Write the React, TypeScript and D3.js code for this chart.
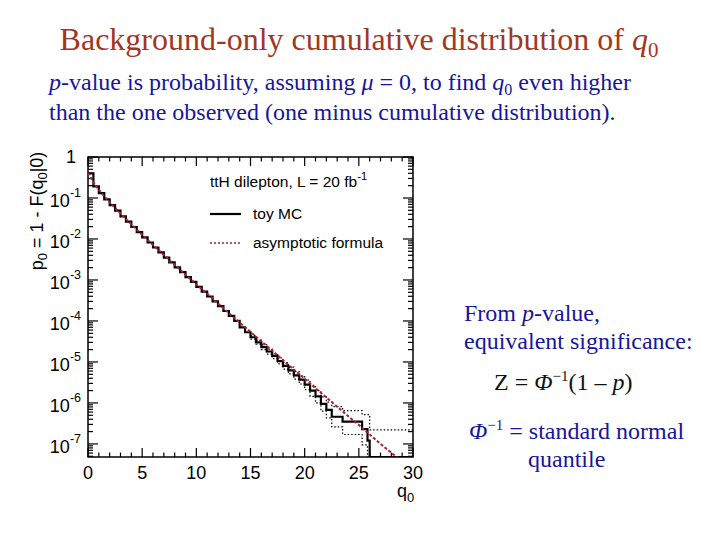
import React from "react";
import * as d3 from "d3";

// asymptotic formula
const asymQ = [0, 0.5, 1, 1.5, 2, 3, 4, 5, 6, 7, 8, 9, 10, 11, 12, 13, 14, 15, 16, 17, 18, 19, 20, 21, 22, 23, 24, 25, 26, 27, 28, 28.5];
const asymP = [0.41, 0.24, 0.159, 0.11, 0.0786, 0.0416, 0.0228, 0.0127, 0.00715, 0.00408, 0.00234, 0.00135, 7.8e-4, 4.6e-4, 2.66e-4, 1.56e-4, 9.1e-5, 5.4e-5, 3.2e-5, 1.9e-5, 1.1e-5, 6.5e-6, 3.9e-6, 2.3e-6, 1.36e-6, 8.1e-7, 4.8e-7, 2.9e-7, 1.7e-7, 1.0e-7, 6.1e-8, 4.7e-8];

// toy MC histogram (step starts and contents)
const toyQ = [0, 0.5, 1, 1.5, 2, 2.5, 3, 3.5, 4, 4.5, 5, 5.5, 6, 6.5, 7, 7.5, 8, 8.5, 9, 9.5, 10, 10.5, 11, 11.5, 12, 12.5, 13, 13.5, 14, 14.5, 15, 15.5, 16, 16.5, 17, 17.5, 18, 18.5, 19, 19.5, 20, 20.5, 21, 21.5, 22, 22.5, 23.5, 25.3, 25.8, 26, 30];
const toyP = [0.4, 0.193, 0.132, 0.093, 0.067, 0.049, 0.0357, 0.0264, 0.0196, 0.0147, 0.011, 0.0082, 0.0062, 0.0047, 0.0035, 0.0027, 0.00204, 0.00155, 0.00118, 9.0e-4, 6.8e-4, 5.2e-4, 3.95e-4, 3.0e-4, 2.3e-4, 1.75e-4, 1.33e-4, 1.0e-4, 7.0e-5, 5.3e-5, 4.0e-5, 3.0e-5, 2.3e-5, 1.8e-5, 1.4e-5, 1.05e-5, 8.0e-6, 6.2e-6, 4.7e-6, 3.7e-6, 2.8e-6, 2.0e-6, 1.45e-6, 9.5e-7, 6.8e-7, 4.6e-7, 3.5e-7, 2.3e-7, 1.2e-7, 0, 0];

// toy MC error band (dotted)
const bandQ = [15, 15.5, 16, 16.5, 17, 17.5, 18, 18.5, 19, 19.5, 20, 20.5, 21, 21.5, 22, 22.5, 23.5, 25.3, 25.8, 26, 30];
const bandUp = [4.4e-5, 3.4e-5, 2.6e-5, 2.05e-5, 1.6e-5, 1.25e-5, 9.6e-6, 7.5e-6, 5.8e-6, 4.6e-6, 3.6e-6, 2.7e-6, 2.0e-6, 1.4e-6, 1.05e-6, 8.1e-7, 6.5e-7, 5.2e-7, 5.2e-7, 2.2e-7, 2.2e-7];
const bandDown = [3.6e-5, 2.7e-5, 2.0e-5, 1.55e-5, 1.2e-5, 9.0e-6, 6.7e-6, 5.1e-6, 3.8e-6, 2.9e-6, 2.1e-6, 1.45e-6, 1.0e-6, 6.3e-7, 4.3e-7, 2.6e-7, 1.7e-7, 9.5e-8, 0, 0, 0];

const xTickLabels = [0, 5, 10, 15, 20, 25, 30];
const yDecades = [0, -1, -2, -3, -4, -5, -6, -7];

const sans = "'Liberation Sans', Arial, Helvetica, sans-serif";
const serif = "'Liberation Serif', 'Times New Roman', serif";
const titleColor = "#a3361f";
const blue = "#16169a";
const red = "#a8232e";

const W = 720, H = 540;
const fx0 = 88, fx1 = 413, fy0 = 157, fy1 = 457;

export default function App() {
  const x = d3.scaleLinear().domain([0, 30]).range([fx0, fx1]);
  const y = d3.scaleLog().domain([4.8e-8, 1]).range([fy1, fy0]);
  const yv = (p: number) => (p > 0 ? Math.min(y(p), fy1) : fy1);

  const stepLine = d3.line<[number, number]>()
    .x(d => x(d[0])).y(d => yv(d[1])).curve(d3.curveStepAfter);
  const smooth = d3.line<[number, number]>().x(d => x(d[0])).y(d => y(d[1]));

  const toyPts = toyQ.map((q, i) => [q, toyP[i]] as [number, number]);
  const upPts = bandQ.map((q, i) => [q, bandUp[i]] as [number, number]);
  const dnPts = bandQ.map((q, i) => [q, bandDown[i]] as [number, number]);
  const asymPts = asymQ.map((q, i) => [q, asymP[i]] as [number, number]);

  const xMinor = d3.range(0, 31, 1);
  const yTicks = y.ticks();
  const isMajor = (v: number) => Math.abs(Math.log10(v) - Math.round(Math.log10(v))) < 1e-6;

  return (
    <svg width={W} height={H} style={{ position: "absolute", left: 0, top: 0, background: "#fff" }}>
      <defs>
        <clipPath id="frame">
          <rect x={fx0} y={fy0} width={fx1 - fx0} height={fy1 - fy0} />
        </clipPath>
      </defs>

      <text x={359} y={50} textAnchor="middle" fontFamily={serif} fontSize={32} fill={titleColor}>
        Background-only cumulative distribution of <tspan fontStyle="italic">q</tspan>
        <tspan dy={7} fontSize={21}>0</tspan>
      </text>

      <g fontFamily={serif} fontSize={24} fill={blue}>
        <text x={49} y={90}>
          <tspan fontStyle="italic">p</tspan>-value is probability, assuming <tspan fontStyle="italic">μ</tspan> = 0, to find <tspan fontStyle="italic">q</tspan>
          <tspan dy={5} fontSize={16}>0</tspan>
          <tspan dy={-5}> even higher</tspan>
        </text>
        <text x={49} y={120}>than the one observed (one minus cumulative distribution).</text>
        <text x={464} y={321}>From <tspan fontStyle="italic">p</tspan>-value,</text>
        <text x={464} y={349}>equivalent significance:</text>
        <text x={494} y={390} fill="#111">
          Z = <tspan fontStyle="italic">Φ</tspan><tspan dy={-9} fontSize={15}>−1</tspan><tspan dy={9}>(1 – </tspan><tspan fontStyle="italic">p</tspan>)
        </text>
        <text x={469} y={439}>
          <tspan fontStyle="italic">Φ</tspan><tspan dy={-9} fontSize={15}>−1</tspan><tspan dy={9}> = standard normal</tspan>
        </text>
        <text x={528} y={467}>quantile</text>
      </g>

      {/* frame */}
      <rect x={fx0} y={fy0} width={fx1 - fx0} height={fy1 - fy0} fill="none" stroke="#000" strokeWidth={1.5} />

      {/* x ticks, bottom and top, inside */}
      {xMinor.map(v => {
        const len = v % 5 === 0 ? 9 : 4.5;
        return (
          <g key={"xt" + v} stroke="#000" strokeWidth={1.2}>
            <line x1={x(v)} x2={x(v)} y1={fy1} y2={fy1 - len} />
            <line x1={x(v)} x2={x(v)} y1={fy0} y2={fy0 + len} />
          </g>
        );
      })}

      {/* y ticks, left and right, inside */}
      {yTicks.map((v, i) => {
        const len = isMajor(v) ? 10 : 5;
        const yy = y(v);
        if (yy > fy1 || yy < fy0) return null;
        return (
          <g key={"yt" + i} stroke="#000" strokeWidth={1.2}>
            <line x1={fx0} x2={fx0 + len} y1={yy} y2={yy} />
            <line x1={fx1} x2={fx1 - len} y1={yy} y2={yy} />
          </g>
        );
      })}

      {/* tick labels */}
      <g fontFamily={sans} fontSize={18} fill="#000">
        {xTickLabels.map(v => (
          <text key={"xl" + v} x={x(v)} y={fy1 + 22} textAnchor="middle">{v}</text>
        ))}
        {yDecades.map(e => (
          e === 0 ? (
            <text key="yl0" x={76} y={y(1) + 6} textAnchor="end">1</text>
          ) : (
            <text key={"yl" + e} x={81} y={y(Math.pow(10, e)) + 9} textAnchor="end">
              10<tspan dy={-10} fontSize={12.5}>{e}</tspan>
            </text>
          )
        ))}
      </g>

      {/* axis titles */}
      <text transform={`translate(43,211) rotate(-90)`} textAnchor="middle" fontFamily={sans} fontSize={18}>
        p<tspan dy={4} fontSize={13}>0</tspan><tspan dy={-4}> = 1 - F(q</tspan><tspan dy={4} fontSize={13}>0</tspan><tspan dy={-4}>|0)</tspan>
      </text>
      <text x={397} y={497} fontFamily={sans} fontSize={18}>
        q<tspan dy={5} fontSize={13}>0</tspan>
      </text>

      {/* curves */}
      <g clipPath="url(#frame)" fill="none">
        <path d={stepLine(upPts) ?? ""} stroke="#000" strokeWidth={1.2} strokeDasharray="1.5,2" />
        <path d={stepLine(dnPts) ?? ""} stroke="#000" strokeWidth={1.2} strokeDasharray="1.5,2" />
        <path d={stepLine(toyPts) ?? ""} stroke="#000" strokeWidth={2.2} />
        <path d={smooth(asymPts) ?? ""} stroke={red} strokeWidth={2} strokeDasharray="3,2" />
      </g>

      {/* legend */}
      <g fontFamily={sans} fontSize={15.5} fill="#000">
        <text x={210} y={187}>ttH dilepton, L = 20 fb<tspan dy={-7} fontSize={11}>-1</tspan></text>
        <line x1={210} x2={241} y1={214} y2={214} stroke="#000" strokeWidth={2.2} />
        <text x={253} y={219}>toy MC</text>
        <line x1={210} x2={241} y1={243} y2={243} stroke={red} strokeWidth={1.6} strokeDasharray="2,2" />
        <text x={253} y={248}>asymptotic formula</text>
      </g>
    </svg>
  );
}
